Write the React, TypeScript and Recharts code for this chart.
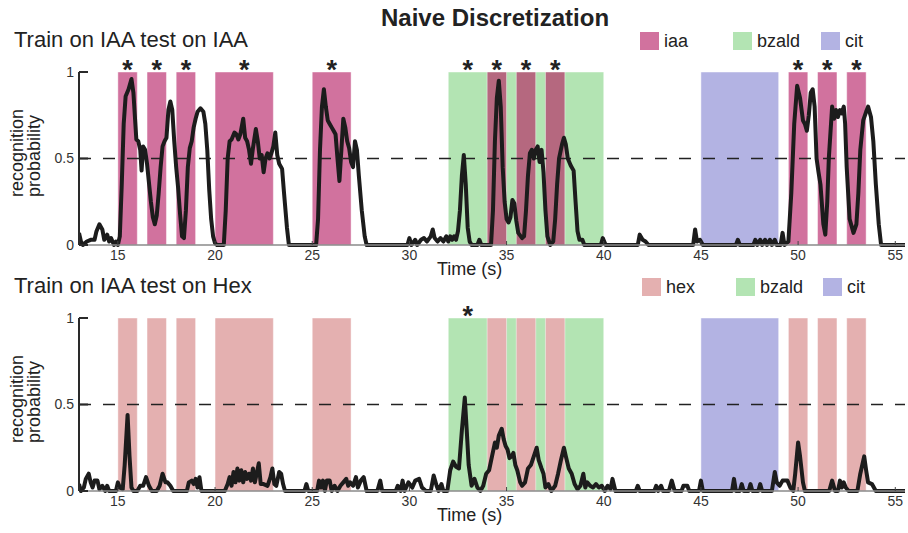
import { Line, LineChart, ReferenceArea, ReferenceDot, ReferenceLine, XAxis, YAxis } from 'recharts'

const FONT = '"Liberation Sans", Arial, Helvetica, sans-serif'

const timeTicks = [15, 20, 25, 30, 35, 40, 45, 50, 55]
const probTicks = [0, 0.5, 1]

// odor delivery windows (s)
const iaaWindows: [number, number][] = [
  [15, 16], [16.5, 17.5], [18, 19], [20, 23], [25, 27], [49.5, 50.5], [51, 52], [52.5, 53.5],
]
const mixedWindows: [number, number][] = [[34, 35], [35.5, 36.5], [37, 38]]
const bzaldWindows: [number, number][] = [[32, 40]]
const citWindows: [number, number][] = [[45, 49]]

// significant detections
const iaaStars = [15.5, 17, 18.5, 21.5, 26, 33, 34.5, 36, 37.5, 50, 51.5, 53]
const hexStars = [33]

// [time s, recognition probability]
const iaaOnIaa: [number, number][] = [
  [13.0, 0.07], [13.1, 0.02], [13.2, 0.0], [13.4, 0.02], [13.6, 0.03], [13.8, 0.03], [13.9, 0.08],
  [14.05, 0.12], [14.2, 0.09], [14.3, 0.03], [14.45, 0.06], [14.55, 0.02], [14.65, 0.04], [14.8, 0.0],
  [14.9, 0.02], [15.0, 0.0], [15.1, 0.05], [15.2, 0.35], [15.3, 0.7], [15.4, 0.86], [15.55, 0.9],
  [15.7, 0.96], [15.8, 0.88], [15.9, 0.7], [15.95, 0.61], [16.05, 0.6], [16.15, 0.55], [16.22, 0.43],
  [16.3, 0.57], [16.4, 0.55], [16.5, 0.47], [16.6, 0.36], [16.7, 0.25], [16.8, 0.16], [16.9, 0.12],
  [17.0, 0.17], [17.1, 0.3], [17.2, 0.45], [17.3, 0.57], [17.4, 0.6], [17.5, 0.62], [17.6, 0.78],
  [17.7, 0.83], [17.8, 0.78], [17.9, 0.6], [18.0, 0.45], [18.1, 0.33], [18.2, 0.18], [18.3, 0.05],
  [18.4, 0.04], [18.5, 0.2], [18.6, 0.45], [18.7, 0.56], [18.8, 0.6], [18.9, 0.68], [19.0, 0.73],
  [19.1, 0.77], [19.25, 0.79], [19.4, 0.77], [19.5, 0.7], [19.6, 0.55], [19.7, 0.32], [19.8, 0.15],
  [19.9, 0.05], [20.0, 0.01], [20.1, 0.0], [20.45, 0.0], [20.55, 0.2], [20.65, 0.5], [20.75, 0.6],
  [20.85, 0.61], [21.0, 0.65], [21.1, 0.64], [21.2, 0.61], [21.3, 0.64], [21.45, 0.73], [21.55, 0.62],
  [21.65, 0.6], [21.75, 0.55], [21.85, 0.47], [21.95, 0.56], [22.1, 0.67], [22.2, 0.6], [22.3, 0.5],
  [22.4, 0.52], [22.5, 0.42], [22.6, 0.5], [22.7, 0.53], [22.8, 0.5], [22.9, 0.53], [23.0, 0.57],
  [23.1, 0.65], [23.2, 0.52], [23.3, 0.47], [23.45, 0.44], [23.55, 0.3], [23.7, 0.1], [23.8, 0.0],
  [25.2, 0.0], [25.3, 0.15], [25.4, 0.55], [25.5, 0.8], [25.6, 0.9], [25.7, 0.8], [25.8, 0.72],
  [25.9, 0.7], [26.0, 0.68], [26.1, 0.66], [26.2, 0.64], [26.3, 0.5], [26.4, 0.37], [26.5, 0.55],
  [26.6, 0.73], [26.7, 0.68], [26.8, 0.6], [26.9, 0.56], [27.0, 0.48], [27.1, 0.45], [27.2, 0.6],
  [27.3, 0.55], [27.4, 0.4], [27.55, 0.2], [27.7, 0.05], [27.8, 0.0], [29.9, 0.0], [30.0, 0.04],
  [30.1, 0.0], [30.3, 0.03], [30.4, 0.0], [30.6, 0.03], [30.75, 0.04], [30.9, 0.02], [31.1, 0.05],
  [31.2, 0.09], [31.3, 0.04], [31.45, 0.02], [31.6, 0.04], [31.75, 0.02], [31.9, 0.05], [32.0, 0.02],
  [32.1, 0.05], [32.2, 0.03], [32.3, 0.05], [32.4, 0.03], [32.5, 0.08], [32.6, 0.2], [32.7, 0.4],
  [32.8, 0.52], [32.9, 0.35], [33.0, 0.1], [33.1, 0.02], [33.2, 0.0], [33.5, 0.0], [33.6, 0.03],
  [33.7, 0.0], [34.2, 0.0], [34.3, 0.2], [34.4, 0.6], [34.5, 0.85], [34.6, 0.95], [34.7, 0.8],
  [34.8, 0.45], [34.9, 0.25], [35.0, 0.15], [35.1, 0.13], [35.2, 0.16], [35.3, 0.26], [35.4, 0.24],
  [35.5, 0.14], [35.6, 0.07], [35.8, 0.04], [35.9, 0.05], [36.0, 0.2], [36.1, 0.4], [36.2, 0.53],
  [36.3, 0.55], [36.4, 0.5], [36.5, 0.55], [36.6, 0.57], [36.7, 0.48], [36.8, 0.55], [36.9, 0.42],
  [37.0, 0.2], [37.1, 0.05], [37.25, 0.0], [37.4, 0.02], [37.5, 0.15], [37.6, 0.35], [37.7, 0.5],
  [37.85, 0.58], [37.95, 0.62], [38.05, 0.58], [38.15, 0.5], [38.3, 0.46], [38.45, 0.43], [38.55, 0.25],
  [38.65, 0.08], [38.75, 0.03], [38.9, 0.03], [39.0, 0.0], [39.85, 0.0], [39.95, 0.04], [40.1, 0.0],
  [41.75, 0.0], [41.85, 0.06], [42.0, 0.03], [42.15, 0.02], [42.3, 0.0], [44.6, 0.0], [44.7, 0.09],
  [44.8, 0.02], [44.95, 0.03], [45.1, 0.0], [46.8, 0.0], [46.9, 0.03], [47.0, 0.0], [47.7, 0.0],
  [47.8, 0.03], [47.9, 0.0], [48.05, 0.03], [48.15, 0.0], [48.3, 0.03], [48.4, 0.0], [48.55, 0.03],
  [48.65, 0.0], [48.8, 0.03], [48.9, 0.0], [49.1, 0.0], [49.2, 0.07], [49.3, 0.0], [49.5, 0.02],
  [49.65, 0.3], [49.8, 0.7], [49.95, 0.92], [50.1, 0.85], [50.25, 0.72], [50.35, 0.7], [50.45, 0.66],
  [50.55, 0.75], [50.65, 0.88], [50.75, 0.9], [50.85, 0.8], [50.95, 0.5], [51.05, 0.42], [51.15, 0.35],
  [51.3, 0.12], [51.4, 0.06], [51.5, 0.25], [51.58, 0.5], [51.75, 0.8], [51.85, 0.73], [51.95, 0.78],
  [52.05, 0.74], [52.15, 0.78], [52.25, 0.76], [52.35, 0.8], [52.42, 0.7], [52.5, 0.45], [52.65, 0.15],
  [52.85, 0.07], [53.0, 0.12], [53.1, 0.3], [53.2, 0.55], [53.35, 0.72], [53.5, 0.77], [53.6, 0.8],
  [53.75, 0.74], [53.87, 0.6], [54.0, 0.35], [54.15, 0.12], [54.27, 0.0], [55.5, 0.0],
]

const iaaOnHex: [number, number][] = [
  [13.0, 0.04], [13.1, 0.0], [13.25, 0.02], [13.35, 0.07], [13.5, 0.1], [13.6, 0.05], [13.7, 0.02],
  [13.8, 0.06], [13.95, 0.06], [14.05, 0.01], [14.2, 0.03], [14.35, 0.0], [14.45, 0.03], [14.55, 0.0],
  [14.9, 0.0], [15.0, 0.05], [15.1, 0.02], [15.25, 0.01], [15.35, 0.15], [15.5, 0.44], [15.6, 0.2],
  [15.7, 0.02], [15.8, 0.0], [16.0, 0.0], [16.15, 0.03], [16.3, 0.03], [16.45, 0.08], [16.6, 0.03],
  [16.75, 0.0], [17.0, 0.0], [17.15, 0.03], [17.3, 0.1], [17.45, 0.05], [17.55, 0.05], [17.7, 0.03],
  [17.85, 0.0], [18.55, 0.0], [18.65, 0.05], [18.8, 0.06], [18.9, 0.04], [19.0, 0.07], [19.1, 0.02],
  [19.2, 0.08], [19.3, 0.0], [20.5, 0.0], [20.65, 0.04], [20.75, 0.08], [20.85, 0.03], [20.95, 0.11],
  [21.05, 0.05], [21.15, 0.13], [21.25, 0.06], [21.35, 0.12], [21.45, 0.05], [21.55, 0.11], [21.65, 0.07],
  [21.75, 0.1], [21.85, 0.06], [21.95, 0.13], [22.05, 0.05], [22.25, 0.16], [22.35, 0.04], [22.5, 0.04],
  [22.7, 0.03], [22.85, 0.08], [22.95, 0.13], [23.05, 0.04], [23.15, 0.03], [23.3, 0.11], [23.4, 0.1],
  [23.5, 0.04], [23.6, 0.0], [24.6, 0.0], [24.7, 0.04], [24.8, 0.0], [25.25, 0.0], [25.35, 0.06],
  [25.45, 0.02], [25.55, 0.06], [25.65, 0.0], [25.75, 0.06], [25.9, 0.06], [26.0, 0.0], [26.15, 0.03],
  [26.3, 0.0], [26.45, 0.03], [26.6, 0.05], [26.75, 0.07], [26.85, 0.03], [26.95, 0.05], [27.1, 0.03],
  [27.25, 0.08], [27.35, 0.02], [27.5, 0.06], [27.65, 0.08], [27.8, 0.0], [28.35, 0.0], [28.5, 0.06],
  [28.6, 0.0], [29.3, 0.0], [29.4, 0.03], [29.55, 0.0], [29.65, 0.06], [29.75, 0.0], [29.95, 0.05],
  [30.15, 0.02], [30.3, 0.06], [30.5, 0.07], [30.65, 0.02], [30.85, 0.0], [31.1, 0.0], [31.25, 0.09],
  [31.4, 0.03], [31.5, 0.0], [31.65, 0.04], [31.75, 0.0], [31.95, 0.0], [32.1, 0.12], [32.25, 0.17],
  [32.4, 0.14], [32.55, 0.13], [32.7, 0.35], [32.85, 0.54], [32.95, 0.35], [33.05, 0.15], [33.2, 0.03],
  [33.35, 0.07], [33.5, 0.02], [33.65, 0.0], [33.8, 0.03], [33.95, 0.1], [34.1, 0.12], [34.25, 0.2],
  [34.4, 0.28], [34.5, 0.25], [34.6, 0.32], [34.75, 0.36], [34.85, 0.3], [34.95, 0.26], [35.05, 0.24],
  [35.15, 0.19], [35.25, 0.2], [35.35, 0.22], [35.45, 0.15], [35.55, 0.12], [35.7, 0.05], [35.8, 0.03],
  [35.95, 0.05], [36.1, 0.13], [36.25, 0.15], [36.4, 0.2], [36.55, 0.25], [36.65, 0.18], [36.8, 0.13],
  [36.9, 0.1], [37.0, 0.02], [37.15, 0.04], [37.3, 0.0], [37.5, 0.03], [37.65, 0.1], [37.8, 0.18],
  [37.95, 0.25], [38.05, 0.2], [38.2, 0.13], [38.35, 0.1], [38.5, 0.04], [38.65, 0.01], [38.8, 0.03],
  [38.95, 0.1], [39.05, 0.02], [39.15, 0.05], [39.3, 0.03], [39.45, 0.02], [39.6, 0.04], [39.75, 0.02],
  [39.9, 0.03], [40.05, 0.0], [40.2, 0.03], [40.35, 0.01], [40.45, 0.07], [40.6, 0.0], [41.65, 0.0],
  [41.75, 0.03], [41.85, 0.0], [42.6, 0.0], [42.7, 0.03], [42.8, 0.0], [42.95, 0.03], [43.05, 0.0],
  [43.35, 0.0], [43.5, 0.06], [43.65, 0.0], [44.0, 0.0], [44.1, 0.03], [44.3, 0.03], [44.4, 0.0],
  [44.9, 0.0], [45.0, 0.06], [45.1, 0.0], [46.6, 0.0], [46.7, 0.07], [46.8, 0.0], [47.0, 0.0],
  [47.1, 0.04], [47.2, 0.0], [47.45, 0.0], [47.55, 0.04], [47.65, 0.0], [47.95, 0.0], [48.05, 0.04],
  [48.15, 0.0], [48.65, 0.0], [48.8, 0.11], [48.9, 0.05], [49.05, 0.03], [49.2, 0.06], [49.45, 0.06],
  [49.6, 0.02], [49.75, 0.0], [49.85, 0.1], [50.0, 0.28], [50.1, 0.2], [50.25, 0.05], [50.35, 0.0],
  [51.6, 0.0], [51.75, 0.06], [51.9, 0.0], [52.05, 0.0], [52.15, 0.06], [52.25, 0.02], [52.35, 0.05],
  [52.45, 0.02], [52.6, 0.0], [53.05, 0.0], [53.2, 0.1], [53.4, 0.2], [53.5, 0.12], [53.6, 0.05],
  [53.8, 0.04], [54.0, 0.0], [55.5, 0.0],
]

const COLORS = {
  iaa: '#d1729e',
  mixed: '#b5687f',
  hex: '#e4b0b0',
  bzald: '#b3e4b3',
  cit: '#b3b3e3',
}

type Shade = { x1: number; x2: number; color: string }
type LegendItem = { label: string; color: string }

const toShades = (windows: [number, number][], color: string): Shade[] =>
  windows.map(([x1, x2]) => ({ x1, x2, color }))

const topShades = [
  ...toShades(bzaldWindows, COLORS.bzald),
  ...toShades(citWindows, COLORS.cit),
  ...toShades(iaaWindows, COLORS.iaa),
  ...toShades(mixedWindows, COLORS.mixed),
]
const bottomShades = [
  ...toShades(bzaldWindows, COLORS.bzald),
  ...toShades(citWindows, COLORS.cit),
  ...toShades([...iaaWindows, ...mixedWindows], COLORS.hex),
]

const topLegend: LegendItem[] = [
  { label: 'iaa', color: COLORS.iaa },
  { label: 'bzald', color: COLORS.bzald },
  { label: 'cit', color: COLORS.cit },
]
const bottomLegend: LegendItem[] = [
  { label: 'hex', color: COLORS.hex },
  { label: 'bzald', color: COLORS.bzald },
  { label: 'cit', color: COLORS.cit },
]

const text = (extra: React.CSSProperties): React.CSSProperties => ({
  position: 'absolute',
  fontFamily: FONT,
  lineHeight: 1,
  color: '#222',
  whiteSpace: 'nowrap',
  ...extra,
})

type PanelProps = {
  top: number
  title: string
  trace: [number, number][]
  shades: Shade[]
  stars: number[]
  legend: LegendItem[]
  legendX: number[]
}

function Panel({ top, title, trace, shades, stars, legend, legendX }: PanelProps) {
  const rows = trace.map(([t, p]) => ({ t, p }))
  return (
    <div style={{ position: 'absolute', left: 0, top, width: 908, height: 280 }}>
      <div style={text({ left: 14, top: 29.4, fontSize: 22 })}>{title}</div>
      {legend.map((item, i) => (
        <div key={item.label}>
          <div
            style={{
              position: 'absolute',
              left: legendX[i],
              top: 32,
              width: 19,
              height: 18,
              background: item.color,
            }}
          />
          <div style={text({ left: legendX[i] + 24, top: 31.8, fontSize: 18 })}>{item.label}</div>
        </div>
      ))}
      <div style={{ position: 'absolute', left: 0, top: 0 }}>
        <LineChart width={908} height={275} data={rows} margin={{ top: 72, right: 3, bottom: 0, left: 0 }}>
          <XAxis
            type="number"
            dataKey="t"
            domain={[13, 55.5]}
            ticks={timeTicks}
            allowDataOverflow
            height={30}
            tickSize={-4}
            tickMargin={9}
            axisLine={{ stroke: '#8a8a8a', strokeWidth: 1.5 }}
            tickLine={{ stroke: '#444' }}
            tick={{ fontSize: 14, fill: '#333', fontFamily: FONT }}
          />
          <YAxis
            type="number"
            domain={[0, 1]}
            ticks={probTicks}
            width={79}
            tickSize={-9}
            tickMargin={14}
            axisLine={{ stroke: '#2a2a2a', strokeWidth: 2 }}
            tickLine={{ stroke: '#2a2a2a', strokeWidth: 2 }}
            tick={{ fontSize: 14, fill: '#333', fontFamily: FONT }}
          />
          {shades.map((s, i) => (
            <ReferenceArea
              key={i}
              x1={s.x1}
              x2={s.x2}
              y1={0}
              y2={1}
              fill={s.color}
              fillOpacity={1}
              stroke="#ffffff"
              strokeOpacity={0.45}
            />
          ))}
          <ReferenceLine y={0.5} stroke="#222" strokeWidth={1.5} strokeDasharray="12 12" />
          <Line
            type="linear"
            dataKey="p"
            stroke="#1c1c1c"
            strokeWidth={4}
            strokeLinejoin="round"
            dot={false}
            isAnimationActive={false}
          />
          {stars.map((t) => (
            <ReferenceDot
              key={t}
              x={t}
              y={1}
              r={0}
              fill="none"
              stroke="none"
              label={{
                value: '*',
                position: 'top',
                offset: -7,
                fontSize: 27,
                fontWeight: 700,
                fill: '#222',
                fontFamily: FONT,
              }}
            />
          ))}
        </LineChart>
      </div>
      <div style={text({ left: 437, top: 259.8, fontSize: 18 })}>Time (s)</div>
      <div style={text({ left: 7.8, top: 197, fontSize: 18, transform: 'rotate(-90deg)', transformOrigin: '0 0' })}>
        recognition
      </div>
      <div style={text({ left: 24.8, top: 197, fontSize: 18, transform: 'rotate(-90deg)', transformOrigin: '0 0' })}>
        probability
      </div>
    </div>
  )
}

export default function App() {
  return (
    <div style={{ position: 'absolute', left: 0, top: 0, width: 908, height: 533, background: '#fff', overflow: 'hidden' }}>
      <div style={text({ left: 495, top: 6, fontSize: 24, fontWeight: 700, transform: 'translateX(-50%)' })}>
        Naive Discretization
      </div>
      <Panel
        top={0}
        title="Train on IAA test on IAA"
        trace={iaaOnIaa}
        shades={topShades}
        stars={iaaStars}
        legend={topLegend}
        legendX={[640, 733, 821]}
      />
      <Panel
        top={246}
        title="Train on IAA test on Hex"
        trace={iaaOnHex}
        shades={bottomShades}
        stars={hexStars}
        legend={bottomLegend}
        legendX={[642, 736, 823]}
      />
    </div>
  )
}
